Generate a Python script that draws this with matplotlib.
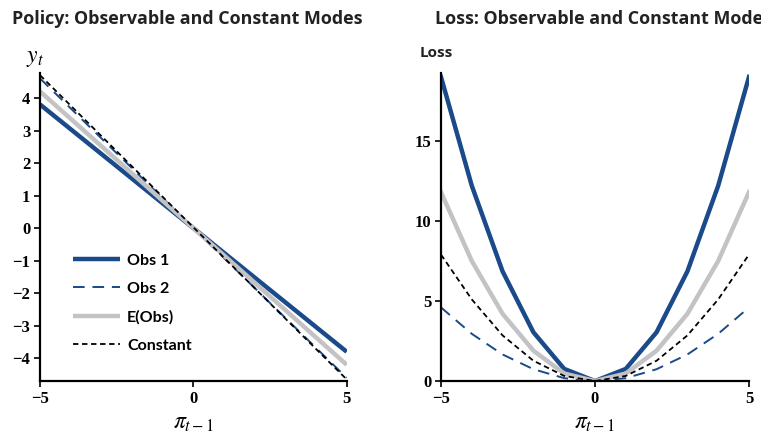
import numpy as np
import matplotlib.pyplot as plt

plt.rcParams['mathtext.fontset'] = 'stix'

# pi_{t-1} grid
x = [-5, -4, -3, -2, -1, 0, 1, 2, 3, 4, 5]

# policy lines (endpoints)
pol_x = [-5, 5]
pol_obs1 = [3.8, -3.8]
pol_obs2 = [4.6, -4.6]
pol_eobs = [4.2, -4.2]
pol_const = [4.7, -4.65]

# loss curves (right panel)
loss_obs1 = [19.0, 12.2, 6.85, 3.05, 0.76, 0.0, 0.76, 3.05, 6.85, 12.2, 19.0]
loss_obs2 = [4.6, 2.95, 1.66, 0.74, 0.18, 0.0, 0.18, 0.74, 1.66, 2.95, 4.6]
loss_eobs = [11.8, 7.5, 4.2, 1.9, 0.47, 0.0, 0.47, 1.9, 4.2, 7.5, 11.8]
loss_const = [7.9, 5.1, 2.85, 1.27, 0.32, 0.0, 0.32, 1.27, 2.85, 5.1, 7.9]

blue = '#1a4a8a'
gray = '#c3c3c5'
tickfont = {'family': 'Liberation Serif', 'weight': 'bold', 'size': 12}

fig = plt.figure(figsize=(7.61, 4.34), dpi=100)
ax1 = fig.add_axes([0.0526, 0.122, 0.403, 0.710])
ax2 = fig.add_axes([0.5795, 0.122, 0.4047, 0.710])

ax1.plot(pol_x, pol_obs1, color=blue, lw=3.2, label='Obs 1', solid_capstyle='butt')
ax1.plot(pol_x, pol_obs2, color=blue, lw=1.4, ls=(0, (6, 4)), label='Obs 2')
ax1.plot(pol_x, pol_eobs, color=gray, lw=3.2, label='E(Obs)', solid_capstyle='butt')
ax1.plot(pol_x, pol_const, color='black', lw=1.3, ls=(0, (3, 2)), label='Constant')
ax1.set_xlim(-5, 5)
ax1.set_ylim(-4.7, 4.77)
ax1.set_yticks([-4, -3, -2, -1, 0, 1, 2, 3, 4])
ax1.set_xticks([-5, 0, 5])
ax1.legend(loc='lower left', bbox_to_anchor=(0.06, 0.045), frameon=False,
           handlelength=2.95, labelspacing=0.88, handletextpad=0.45,
           prop={'family': 'Lato', 'weight': 'bold', 'size': 11.5})

ax2.plot(x, loss_obs1, color=blue, lw=3.2, solid_joinstyle='miter')
ax2.plot(x, loss_obs2, color=blue, lw=1.4, ls=(0, (6, 4)))
ax2.plot(x, loss_eobs, color=gray, lw=3.2)
ax2.plot(x, loss_const, color='black', lw=1.3, ls=(0, (3, 2)))
ax2.set_xlim(-5, 5)
ax2.set_ylim(0, 19.25)
ax2.set_yticks([0, 5, 10, 15])
ax2.set_xticks([-5, 0, 5])

for ax in (ax1, ax2):
    ax.spines['top'].set_visible(False)
    ax.spines['right'].set_visible(False)
    ax.spines['left'].set_linewidth(1.6)
    ax.spines['bottom'].set_linewidth(1.6)
    ax.tick_params(direction='out', length=4, width=1.2, pad=3)
    for lab in ax.get_xticklabels() + ax.get_yticklabels():
        lab.set_fontproperties(tickfont)
    ax.set_xlabel(r'$\pi_{t-1}$', fontsize=17, labelpad=2)

fig.text(0.016, 0.945, 'Policy: Observable and Constant Modes', fontsize=12.9,
         fontweight='bold', family='Open Sans', color='#222222')
fig.text(0.571, 0.945, 'Loss: Observable and Constant Modes', fontsize=12.9,
         fontweight='bold', family='Open Sans', color='#222222')
fig.text(0.034, 0.858, r'$y_t$', fontsize=17)
fig.text(0.552, 0.868, 'Loss', fontsize=11, fontweight='bold', family='Open Sans',
         color='#222222')

fig.savefig('out.png', dpi=100)
